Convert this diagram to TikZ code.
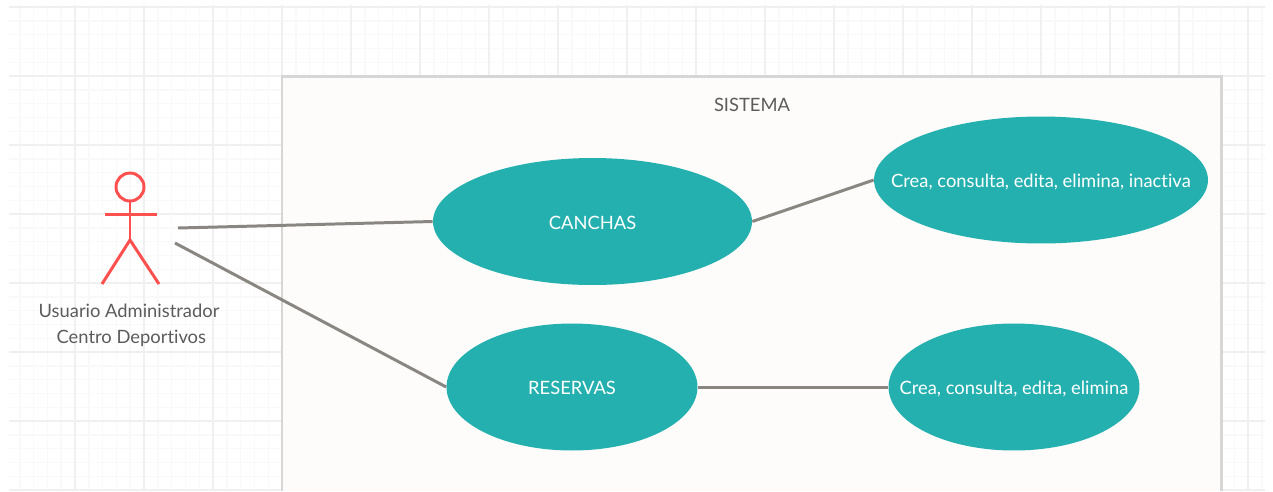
\documentclass[tikz,border=0pt]{standalone}
\usepackage{fontspec}
\setmainfont{Lato}[Ligatures=NoCommon]
\usepackage{tikz}
\usetikzlibrary{calc,shapes.geometric}
\definecolor{gridminor}{HTML}{F9F9F9}
\definecolor{gridmajor}{HTML}{F0F0F0}
\definecolor{boxfill}{HTML}{FDFCFA}
\definecolor{boxline}{HTML}{D6D6D6}
\definecolor{teal}{HTML}{25B0B0}
\definecolor{linkgray}{HTML}{8A8783}
\definecolor{actorred}{HTML}{FF5050}
\definecolor{textgray}{HTML}{5C5C5C}
% text of a use case takes no room, so the ellipse keeps the given size
\newcommand{\casetext}[1]{\makebox[0pt]{\raisebox{-4.3pt}[0pt][0pt]{#1}}}
\tikzset{
  usecase/.style={ellipse,fill=teal,text=white,inner sep=0pt,font=\fontsize{10.45}{12}\selectfont},
  link/.style={draw=linkgray,line width=1.7pt},
  actorline/.style={draw=actorred,line width=1.7pt},
  plain/.style={text=textgray,font=\fontsize{10.45}{14.8}\selectfont}
}

\begin{document}
\begin{tikzpicture}[x=0.02cm,y=-0.02cm]
  \useasboundingbox (0,0) rectangle (1273,491);
  \fill[white] (0,0) rectangle (1273,491);

  % grid
  \begin{scope}
    \clip (9,5) rectangle (1265,491);
    \foreach \k in {0,...,92} {
      \draw[gridminor,line width=0.8pt] ({6+13.8*\k},0) -- ({6+13.8*\k},491);
    }
    \foreach \k in {0,...,35} {
      \draw[gridminor,line width=0.8pt] (0,{7+13.8*\k}) -- (1273,{7+13.8*\k});
    }
    \foreach \k in {0,...,18} {
      \draw[gridmajor,line width=1.1pt] ({6+69*\k},0) -- ({6+69*\k},491);
    }
    \foreach \k in {0,...,7} {
      \draw[gridmajor,line width=1.1pt] (0,{7+69*\k}) -- (1273,{7+69*\k});
    }
  \end{scope}

  % system box, open at the bottom edge of the picture
  \fill[boxfill] (282,76) rectangle (1221,491);
  \draw[boxline,line width=1.7pt] (282,491) -- (282,76) -- (1221,76) -- (1221,491);
  \node[plain] (sistema) at (752,105) {SISTEMA};

  % use cases
  \node[usecase,minimum width=6.38cm,minimum height=2.54cm] (canchas) at (592.5,221.5) {\casetext{CANCHAS}};
  \node[usecase,minimum width=6.68cm,minimum height=2.54cm] (creaCanchas) at (1041,180) {\casetext{Crea, consulta, edita, elimina, inactiva}};
  \node[usecase,minimum width=5.02cm,minimum height=2.54cm] (reservas) at (572,387) {\casetext{RESERVAS}};
  \node[usecase,minimum width=5.02cm,minimum height=2.54cm] (creaReservas) at (1014,387) {\casetext{Crea, consulta, edita, elimina}};

  % actor
  \node[circle,actorline,minimum size=0.56cm,inner sep=0pt] (head) at (130,187) {};
  \coordinate (hip) at (130,240);
  \draw[actorline] (head.south) -- (hip);
  \draw[actorline] (105,214) -- (157,214);
  \draw[actorline] (102,284) -- (hip) -- (159,284);
  \node[plain,align=center] (actor) at (129,325.5) {Usuario Administrador\\\ Centro Deportivos};

  % connectors
  \coordinate (actorA) at (178,228);
  \coordinate (actorB) at (175,243);
  \draw[link] (actorA) -- (canchas.west);
  \draw[link] (actorB) -- (reservas.west);
  \draw[link] (canchas.east) -- (creaCanchas.west);
  \draw[link] (reservas.east) -- (creaReservas.west);
\end{tikzpicture}
\end{document}
